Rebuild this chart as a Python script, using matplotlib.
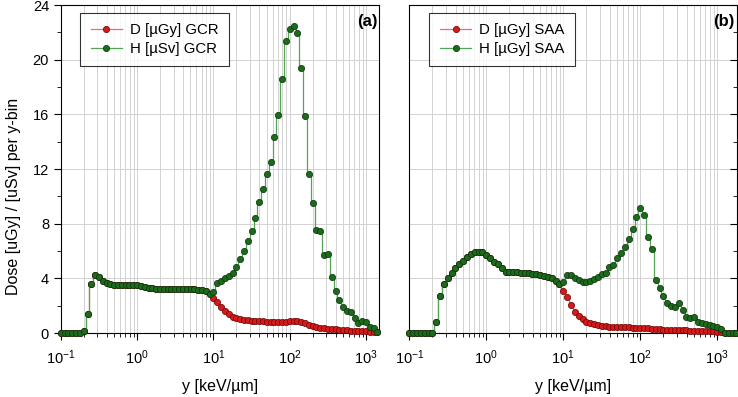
import numpy as np
import matplotlib
matplotlib.use("Agg")
import matplotlib.pyplot as plt
from matplotlib.ticker import LogLocator, MultipleLocator, NullFormatter

plt.rcParams['font.family'] = ['Liberation Sans', 'DejaVu Sans']
plt.rcParams['mathtext.fontset'] = 'custom'
plt.rcParams['mathtext.rm'] = 'Liberation Sans'

# lineal energy bins: 20 per decade starting at 0.1 keV/um
bins_per_decade = 20

# Panel (a) GCR
h_gcr = [0, 0, 0, 0, 0, 0, 0.17, 1.37, 3.6, 4.24,
         4.07, 3.80, 3.68, 3.58, 3.53, 3.53, 3.53, 3.52, 3.52, 3.51,
         3.50, 3.42, 3.36, 3.30, 3.27, 3.25, 3.23, 3.21, 3.20, 3.20,
         3.20, 3.20, 3.20, 3.20, 3.20, 3.20, 3.17, 3.12, 3.05, 2.88,
         3.02, 3.63, 3.83, 4.02, 4.20, 4.40, 4.85, 5.40, 6.00, 6.70,
         7.50, 8.40, 9.60, 10.53, 11.61, 12.49, 14.32, 15.95, 18.58, 21.34,
         22.22, 22.46, 21.93, 19.41, 15.90, 11.61, 9.53, 7.53, 7.44, 5.71,
         5.76, 4.12, 3.10, 2.41, 1.92, 1.63, 1.56, 1.07, 0.71, 0.88,
         0.78, 0.46, 0.34, 0.10]
d_gcr = h_gcr[:40] + [
         2.55, 2.28, 1.90, 1.60, 1.38, 1.20, 1.08, 1.00, 0.95, 0.92,
         0.90, 0.88, 0.86, 0.85, 0.83, 0.82, 0.80, 0.80, 0.80, 0.82,
         0.86, 0.90, 0.90, 0.82, 0.70, 0.58, 0.48, 0.42, 0.38, 0.35,
         0.32, 0.30, 0.27, 0.25, 0.22, 0.20, 0.18, 0.16, 0.14, 0.13,
         0.12, 0.10, 0.07, 0.04]

# Panel (b) SAA
h_saa = [0, 0, 0, 0, 0, 0, 0, 0.83, 2.70, 3.58,
         4.05, 4.41, 4.78, 5.03, 5.29, 5.54, 5.76, 5.90, 5.95, 5.90,
         5.71, 5.46, 5.22, 5.05, 4.73, 4.48, 4.44, 4.44, 4.44, 4.41,
         4.41, 4.39, 4.34, 4.29, 4.24, 4.20, 4.12, 4.00, 3.80, 3.56,
         3.71, 4.27, 4.24, 4.05, 3.88, 3.75, 3.75, 3.80, 3.93, 4.12,
         4.29, 4.41, 4.81, 4.97, 5.46, 5.87, 6.31, 6.85, 7.58, 8.51,
         9.12, 8.63, 7.04, 6.12, 3.88, 3.30, 2.71, 2.20, 2.00, 1.90,
         2.17, 1.68, 1.19, 1.10, 1.19, 0.80, 0.75, 0.68, 0.60, 0.52,
         0.45, 0.30, 0.02, 0, 0, 0]
d_saa = h_saa[:40] + [
         3.10, 2.63, 2.05, 1.56, 1.24, 1.00, 0.83, 0.71, 0.64, 0.56,
         0.53, 0.50, 0.46, 0.45, 0.44, 0.43, 0.42, 0.41, 0.40, 0.40,
         0.40, 0.38, 0.34, 0.30, 0.28, 0.26, 0.25, 0.24, 0.23, 0.22,
         0.21, 0.20, 0.19, 0.18, 0.17, 0.16, 0.15, 0.14, 0.13, 0.12,
         0.10, 0.08, 0, 0, 0, 0]

labels_a = ["D [µGy] GCR", "H [µSv] GCR"]
labels_b = ["D [µGy] SAA", "H [µGy] SAA"]

def ygrid(n):
    return 10.0 ** (-1 + np.arange(n) / bins_per_decade)

red_line = '#e27070'
red_face = '#d41a1a'
red_edge = '#6a0000'
grn_line = '#55a355'
grn_face = '#1c6a1c'
grn_edge = '#0a300a'

fig = plt.figure(figsize=(7.38, 3.97), dpi=100)
axa = fig.add_axes([0.0824, 0.1612, 0.4312, 0.8262])
axb = fig.add_axes([0.5546, 0.1612, 0.4434, 0.8262])

def draw(ax, d, h, labels, xmax, tag):
    x = ygrid(len(h))
    ax.plot(x, d, drawstyle='steps-mid', color=red_line, lw=0.9, marker='o',
            ms=4.5, mfc=red_face, mec=red_edge, mew=0.5, label=labels[0],
            clip_on=False, zorder=3)
    ax.plot(x, h, drawstyle='steps-mid', color=grn_line, lw=0.9, marker='o',
            ms=4.5, mfc=grn_face, mec=grn_edge, mew=0.5, label=labels[1],
            clip_on=False, zorder=4)
    ax.set_xscale('log')
    ax.set_xlim(0.1, xmax)
    ax.set_ylim(0, 24)
    ax.xaxis.set_major_locator(LogLocator(base=10, numticks=10))
    ax.xaxis.set_minor_locator(LogLocator(base=10, subs=np.arange(2, 10), numticks=20))
    ax.xaxis.set_minor_formatter(NullFormatter())
    ax.yaxis.set_major_locator(MultipleLocator(4))
    ax.yaxis.set_minor_locator(MultipleLocator(2))
    ax.grid(True, which='major', axis='y', color='#d2d2d2', lw=0.7)
    ax.grid(True, which='both', axis='x', color='#d2d2d2', lw=0.7)
    ax.set_axisbelow(True)
    for s in ax.spines.values():
        s.set_linewidth(0.8)
    ax.tick_params(axis='x', which='major', direction='out', length=5, width=0.8,
                   labelsize=10.5, pad=6)
    ax.tick_params(axis='x', which='minor', direction='out', length=3, width=0.6)
    ax.set_xlabel('y [keV/µm]', fontsize=11.5, labelpad=9)
    leg = ax.legend(loc='upper left', bbox_to_anchor=(0.061, 0.976), borderaxespad=0,
                    frameon=True, fancybox=False, edgecolor='black', fontsize=10.8,
                    handlelength=2.1, borderpad=0.7, labelspacing=0.3, handletextpad=0.5)
    leg.get_frame().set_linewidth(0.8)
    leg.set_zorder(10)
    ax.text(0.995, 0.973, tag, transform=ax.transAxes, ha='right', va='top',
            fontsize=12, fontweight='bold')

draw(axa, d_gcr, h_gcr, labels_a, 1480, '(a)')
draw(axb, d_saa, h_saa, labels_b, 1780, '(b)')

axa.tick_params(axis='y', which='major', direction='out', length=5, width=0.8, labelsize=10.5)
axa.tick_params(axis='y', which='minor', direction='out', length=3, width=0.6)
axa.set_ylabel('Dose [uGy] / [uSv] per y-bin', fontsize=11.5, labelpad=6)
axa.yaxis.set_label_coords(-0.125, 0.415)

axb.yaxis.tick_right()
axb.tick_params(axis='y', which='major', direction='in', length=5, width=0.8, labelright=False)
axb.tick_params(axis='y', which='minor', direction='in', length=3, width=0.6)

fig.savefig('out.png', dpi=100)
